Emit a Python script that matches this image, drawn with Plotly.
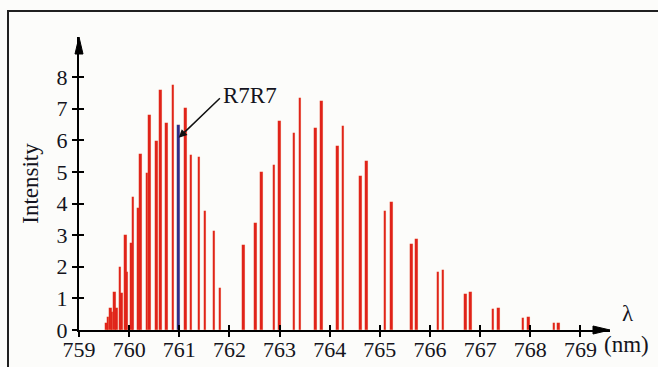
import plotly.graph_objects as go

# O2 A-band absorption lines: wavelength (nm) and relative intensity
wavelength_nm = [
    759.546, 759.582, 759.632, 759.662, 759.706, 759.746, 759.818, 759.852,
    759.925, 759.947, 760.045, 760.077, 760.191, 760.231, 760.356, 760.410,
    760.544, 760.623, 760.743, 760.875, 760.988, 761.128, 761.238, 761.397,
    761.517, 761.692, 761.812,
    762.285, 762.518, 762.638, 762.889, 763.003, 763.288, 763.408, 763.715,
    763.834, 764.154, 764.265, 764.618, 764.732, 765.107, 765.230, 765.629,
    765.729, 766.160, 766.260, 766.706, 766.806, 767.257, 767.370, 767.855,
    767.969, 768.473, 768.567,
]
intensity = [
    0.21, 0.40, 0.70, 0.56, 1.21, 0.70, 2.00, 1.16,
    2.99, 1.84, 2.76, 4.22, 3.85, 5.56, 4.98, 6.80,
    5.98, 7.59, 6.56, 7.75, 6.49, 7.03, 5.55, 5.46,
    3.75, 3.14, 1.33,
    2.70, 3.40, 4.99, 5.22, 6.61, 6.22, 7.35, 6.38,
    7.25, 5.83, 6.47, 4.88, 5.35, 3.77, 4.06, 2.71,
    2.87, 1.83, 1.90, 1.13, 1.19, 0.66, 0.69, 0.39,
    0.40, 0.21, 0.21,
]
highlight_label = "R7R7"
highlight_index = 20

x_ticks = list(range(759, 770))
y_ticks = list(range(0, 9))

X_RANGE = [759, 769.59]
Y_RANGE = [0, 9.27]

RED = "#e0221a"
BLUE = "#2b2b8c"
INK = "#141420"
FONT = "Liberation Serif"
TICK_SIZE = 22

colors = [BLUE if i == highlight_index else RED for i in range(len(intensity))]

fig = go.Figure()
fig.add_trace(go.Bar(
    x=wavelength_nm, y=intensity, width=0.05,
    marker=dict(color=colors, line=dict(color="rgba(240,120,50,0.35)", width=0.4)),
    showlegend=False, hoverinfo="x+y",
))
# carrier trace for the overlaid axes (inward tick marks)
fig.add_trace(go.Scatter(x=[], y=[], xaxis="x2", yaxis="y2", showlegend=False))

axis_common = dict(showgrid=False, zeroline=False, ticklen=5, tickwidth=1.5,
                   tickcolor="black", automargin=False)

fig.update_layout(
    width=658, height=367,
    margin=dict(l=79, r=48, t=37, b=37),
    paper_bgcolor="#fcfcfa", plot_bgcolor="#fcfcfa",
    bargap=0,
    font=dict(family=FONT, color=INK, size=TICK_SIZE),
    xaxis=dict(range=X_RANGE, tickvals=x_ticks, ticks="outside",
               showline=True, linecolor="black", linewidth=2, ticklabelstandoff=-6,
               tickfont=dict(family=FONT, size=TICK_SIZE, color=INK), **axis_common),
    yaxis=dict(range=Y_RANGE, tickvals=y_ticks, ticks="outside",
               showline=True, linecolor="black", linewidth=2,
               title=dict(text="Intensity", font=dict(family=FONT, size=23, color=INK),
                          standoff=12),
               tickfont=dict(family=FONT, size=TICK_SIZE, color=INK), **axis_common),
    xaxis2=dict(range=X_RANGE, tickvals=x_ticks, ticks="inside", overlaying="x",
                anchor="y", side="bottom", showticklabels=False, showline=False,
                **axis_common),
    yaxis2=dict(range=Y_RANGE, tickvals=y_ticks, ticks="inside", overlaying="y",
                anchor="x", side="left", showticklabels=False, showline=False,
                **axis_common),
)

# arrow pointing at the highlighted line, with its label
tail_x, tail_y = 761.84, 7.38
fig.add_annotation(x=wavelength_nm[highlight_index], y=6.08, ax=tail_x, ay=tail_y,
                   axref="x", ayref="y", text="", showarrow=True,
                   arrowhead=2, arrowsize=1.1, arrowwidth=1.5, arrowcolor="#111")
fig.add_annotation(x=tail_x, y=7.42, text=highlight_label, showarrow=False,
                   xanchor="left", yanchor="middle",
                   font=dict(family=FONT, size=23, color=INK))

# axis labels at the end of the wavelength axis
fig.add_annotation(xref="paper", yref="paper", x=1.034, y=0.058, text="λ",
                   xanchor="center", yanchor="middle",
                   showarrow=False, font=dict(family=FONT, size=23, color=INK))
fig.add_annotation(xref="paper", yref="paper", x=1.032, y=-0.051, text="(nm)",
                   xanchor="center", yanchor="middle",
                   showarrow=False, font=dict(family=FONT, size=23, color=INK))

# arrowheads at the ends of both axes
ah_len_x, ah_half_x = 17 / 531, 4 / 293
ah_len_y, ah_half_y = 17 / 293, 4 / 531
fig.add_shape(type="path", xref="paper", yref="paper",
              path=f"M {1 - ah_len_x} {-ah_half_x} L 1 0 L {1 - ah_len_x} {ah_half_x} Z",
              fillcolor="black", line=dict(color="black", width=1))
fig.add_shape(type="path", xref="paper", yref="paper",
              path=f"M {-ah_half_y} {1 - ah_len_y} L 0 1 L {ah_half_y} {1 - ah_len_y} Z",
              fillcolor="black", line=dict(color="black", width=1))

# page frame around the figure
fig.add_shape(type="path", xref="paper", yref="paper",
              path="M -0.1337 -0.2 L -0.1337 1.0887 L 1.2 1.0887",
              line=dict(color="#202020", width=2))

fig.write_html("out.html")
